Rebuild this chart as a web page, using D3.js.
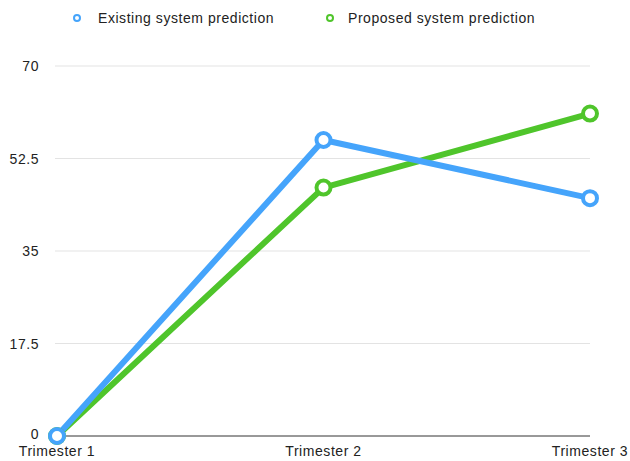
<!DOCTYPE html>
<html><head><meta charset="utf-8">
<script src="https://cdn.jsdelivr.net/npm/d3@7"></script>
<style>body{margin:0;background:#fff;font-family:"Liberation Sans",Arial,sans-serif;}</style>
</head><body>
<svg id="c" width="630" height="461"></svg>
<script>
const categories = ["Trimester 1","Trimester 2","Trimester 3"];
const existing = [0, 56, 45];
const proposed = [0, 47, 61];
const yTicks = [0, 17.5, 35, 52.5, 70];
const seriesNames = ["Existing system prediction","Proposed system prediction"];
const colors = ["#45a4fb","#4fc52b"];

const svg = d3.select("#c");
const x = d3.scalePoint().domain(categories).range([57, 590]);
const y = d3.scaleLinear().domain([0,70]).range([436, 66]);
const fs = 14, ls = "0.55px";

svg.append("g").selectAll("line").data(yTicks.filter(d=>d>0)).join("line")
  .attr("x1",55).attr("x2",590).attr("y1",d=>y(d)).attr("y2",d=>y(d))
  .attr("stroke","#e3e3e3").attr("stroke-width",1);

svg.append("g").selectAll("text").data(yTicks).join("text")
  .attr("x",39).attr("y",d=>y(d)+(d===0?3:5)).attr("text-anchor","end")
  .attr("font-size",fs).attr("letter-spacing",ls).attr("fill","#222").text(d=>d);

svg.append("line").attr("x1",57).attr("x2",590).attr("y1",y(0)).attr("y2",y(0))
  .attr("stroke","#333").attr("stroke-width",1);

svg.append("g").selectAll("text").data(categories).join("text")
  .attr("x",d=>x(d)).attr("y",456).attr("text-anchor","middle")
  .attr("font-size",fs).attr("letter-spacing",ls).attr("fill","#222").text(d=>d);

const line = d3.line().x((d,i)=>x(categories[i])).y(d=>y(d));
const data = [existing, proposed];
[1,0].forEach(k=>{
  svg.append("path").datum(data[k]).attr("d",line).attr("fill","none")
    .attr("stroke",colors[k]).attr("stroke-width",6).attr("stroke-linejoin","round");
});
[1,0].forEach(k=>{
  svg.append("g").selectAll("circle").data(data[k]).join("circle")
    .attr("cx",(d,i)=>x(categories[i])).attr("cy",d=>y(d)).attr("r",7)
    .attr("fill","#fff").attr("stroke",colors[k]).attr("stroke-width",4);
});

const lg = [{x:77,tx:98},{x:330,tx:348}];
seriesNames.forEach((n,k)=>{
  svg.append("circle").attr("cx",lg[k].x).attr("cy",18).attr("r",3)
    .attr("fill","#fff").attr("stroke",colors[k]).attr("stroke-width",2);
  svg.append("text").attr("x",lg[k].tx).attr("y",23).attr("font-size",fs)
    .attr("letter-spacing",ls).attr("fill","#222").text(n);
});
</script>
</body></html>
